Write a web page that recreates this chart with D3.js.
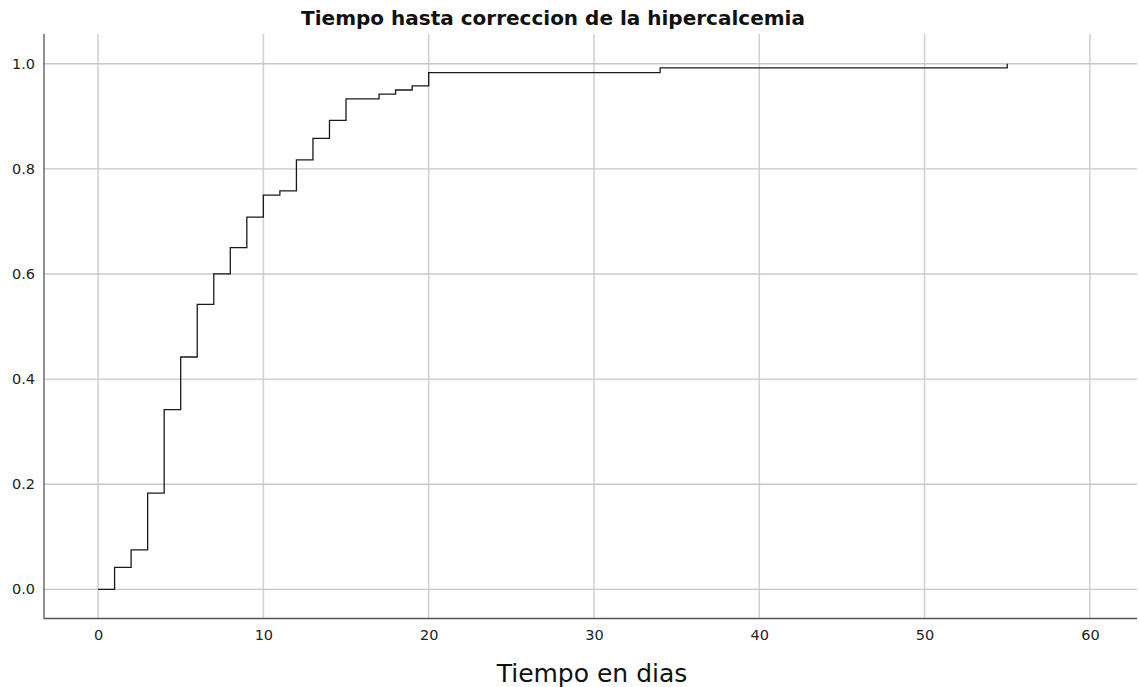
<!DOCTYPE html>
<html>
<head>
<meta charset="utf-8">
<script src="https://cdn.jsdelivr.net/npm/d3@7"></script>
<style>
  html, body { margin: 0; padding: 0; background: #fff; }
  svg { display: block; }
</style>
</head>
<body>
<svg id="chart" width="1139" height="687"></svg>
<script>
// Kaplan-Meier cumulative event curve: time (days) and cumulative proportion corrected
const stepTimes  = [0, 1, 2, 3, 4, 5, 6, 7, 8, 9, 10, 11, 12, 13, 14, 15, 17, 18, 19, 20, 34, 55];
const cumulative = [0, 0.042, 0.075, 0.183, 0.342, 0.442, 0.542, 0.600, 0.650, 0.708, 0.750, 0.758,
                    0.817, 0.858, 0.892, 0.933, 0.942, 0.950, 0.958, 0.983, 0.992, 1.000];
const xTicks = [0, 10, 20, 30, 40, 50, 60];
const yTicks = [0.0, 0.2, 0.4, 0.6, 0.8, 1.0];
const titleText = "Tiempo hasta correccion de la hipercalcemia";
const xLabelText = "Tiempo en dias";

const svg = d3.select("#chart");
const plotLeft = 43.5, plotRight = 1137, plotTop = 34, plotBottom = 618;

const x = d3.scaleLinear().domain([-3.3, 62.85]).range([plotLeft, plotRight]);
const y = d3.scaleLinear().domain([-0.0545, 1.0565]).range([plotBottom, plotTop]);

// grid lines
svg.append("g").selectAll("line").data(xTicks).join("line")
  .attr("x1", d => x(d)).attr("x2", d => x(d))
  .attr("y1", plotTop).attr("y2", plotBottom)
  .attr("stroke", "#d2d2d2").attr("stroke-width", 1.6);
svg.append("g").selectAll("line").data(yTicks).join("line")
  .attr("x1", plotLeft).attr("x2", plotRight)
  .attr("y1", d => y(d)).attr("y2", d => y(d))
  .attr("stroke", "#c8c8c8").attr("stroke-width", 1.4);

// axes (lines only, labels drawn by d3 axis generators)
const xAxis = d3.axisBottom(x).tickValues(xTicks).tickFormat(d3.format("d")).tickSize(0).tickPadding(12);
const yAxis = d3.axisLeft(y).tickValues(yTicks).tickFormat(d3.format(".1f")).tickSize(0).tickPadding(8.5);

const gx = svg.append("g").attr("transform", `translate(0,${plotBottom})`).call(xAxis);
const gy = svg.append("g").attr("transform", `translate(${plotLeft},0)`).call(yAxis);
[gx, gy].forEach(g => {
  g.select(".domain").attr("stroke", "#555").attr("stroke-width", 1.3);
  g.selectAll("text").attr("font-family", "DejaVu Sans").attr("font-size", 14.5).attr("fill", "#222");
});
gx.select(".domain").attr("d", `M${plotLeft},0.5H${plotRight}`);
gy.select(".domain").attr("d", `M0.5,${plotTop}V${plotBottom}`);

// step curve
const pts = stepTimes.map((t, i) => [t, cumulative[i]]);
const line = d3.line().x(d => x(d[0])).y(d => y(d[1])).curve(d3.curveStepAfter);
svg.append("path").datum(pts)
  .attr("d", line)
  .attr("fill", "none").attr("stroke", "#1a1a1a").attr("stroke-width", 1.3);

// title and axis label
svg.append("text").text(titleText)
  .attr("x", 553).attr("y", 25).attr("text-anchor", "middle")
  .attr("font-family", "DejaVu Sans").attr("font-weight", "bold").attr("font-size", 20).attr("fill", "#111");
svg.append("text").text(xLabelText)
  .attr("x", 592).attr("y", 682).attr("text-anchor", "middle")
  .attr("font-family", "DejaVu Sans").attr("font-size", 25).attr("fill", "#111");
</script>
</body>
</html>
